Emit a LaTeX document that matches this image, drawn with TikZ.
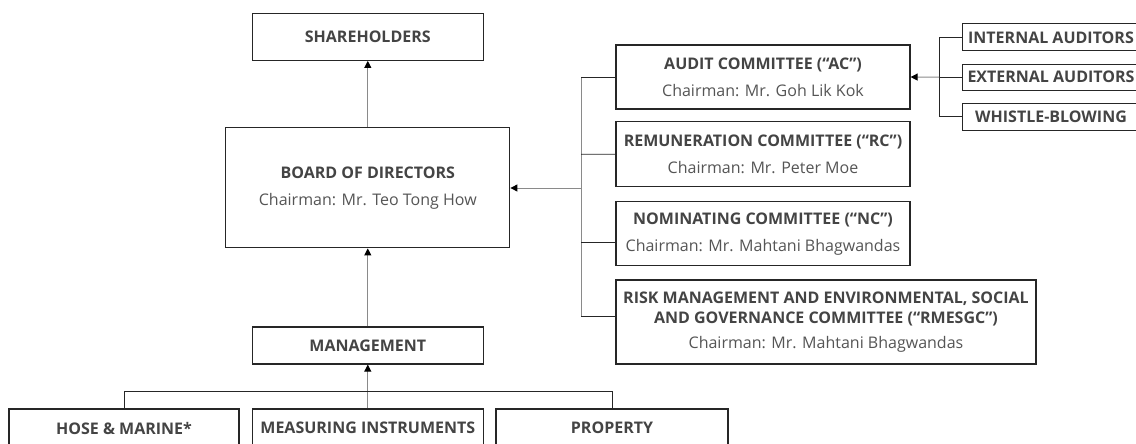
\documentclass[tikz,border=0pt]{standalone}
\usepackage{fontspec}
\setmainfont{Open Sans}
\usetikzlibrary{arrows.meta}
\definecolor{txt}{HTML}{444444}
\definecolor{sub}{HTML}{555555}
\definecolor{bord}{HTML}{262626}
\definecolor{conn}{HTML}{8A8A8A}
\newcommand{\ttl}[1]{{\bfseries\color{txt}#1}}
\newcommand{\chair}[1]{{\color{sub}#1}}
\begin{document}
\begin{tikzpicture}[x=1pt,y=-1pt,
  box/.style={draw=bord, line width=1.2pt, fill=white, inner sep=0pt, align=center,
    font=\fontsize{16}{19}\selectfont, text=txt},
  brk/.style={draw=bord, line width=0.9pt},
  vbrk/.style={draw=conn, line width=1pt},
  arr/.style={draw=conn, line width=1pt, -{Triangle[length=7pt,width=7pt,color=black]}}]
\useasboundingbox (0,0) rectangle (1136,444);
\clip (0,0) rectangle (1136,444);

% left column
\node[box, minimum width=231pt, minimum height=47pt] (sh) at (367.8,36.8) {\ttl{SHAREHOLDERS}};
\node[box, minimum width=284pt, minimum height=120pt] (bod) at (367.8,187.8)
  {\ttl{BOARD OF DIRECTORS}\\[8pt]\chair{Chairman: Mr. Teo Tong How}};
\node[box, minimum width=231pt, minimum height=37pt] (mgmt) at (367.8,345.5) {\ttl{MANAGEMENT}};

% bottom divisions
\node[box, minimum width=230pt, minimum height=38pt] (hose) at (124,428) {\ttl{HOSE \& MARINE*}};
\node[box, minimum width=231pt, minimum height=38pt] (meas) at (367.8,428) {\ttl{MEASURING INSTRUMENTS}};
\node[box, minimum width=232pt, minimum height=38pt] (prop) at (612,428) {\ttl{PROPERTY}};

% committees
\node[box, minimum width=294pt, minimum height=64pt] (ac) at (763,77)
  {\ttl{AUDIT COMMITTEE (“AC”)}\\[8pt]\chair{Chairman: Mr. Goh Lik Kok}};
\node[box, minimum width=294pt, minimum height=65pt] (rc) at (763,154.2)
  {\ttl{REMUNERATION COMMITTEE (“RC”)}\\[8pt]\chair{Chairman: Mr. Peter Moe}};
\node[box, minimum width=294pt, minimum height=64pt] (nc) at (763,233.8)
  {\ttl{NOMINATING COMMITTEE (“NC”)}\\[8pt]\chair{Chairman: Mr. Mahtani Bhagwandas}};
\node[box, minimum width=420pt, minimum height=84pt] (rm) at (826,322)
  {\ttl{RISK MANAGEMENT AND ENVIRONMENTAL, SOCIAL}\\[1.5pt]\ttl{AND GOVERNANCE COMMITTEE (“RMESGC”)}\\[6pt]\chair{Chairman: Mr. Mahtani Bhagwandas}};

% auditors
\node[box, minimum width=177pt, minimum height=27pt] (ia) at (1051,37.3) {\ttl{INTERNAL AUDITORS}};
\node[box, minimum width=177pt, minimum height=26pt] (ea) at (1051,77.2) {\ttl{EXTERNAL AUDITORS}};
\node[box, minimum width=177pt, minimum height=27pt] (wb) at (1051,116.7) {\ttl{WHISTLE-BLOWING}};

% coordinates
\coordinate (cb1) at (581,77);
\coordinate (cb2) at (581,154.3);
\coordinate (cb3) at (581,242);
\coordinate (cb4) at (581,316);
\coordinate (cbm) at (581,188);
\coordinate (ab1) at (939,37.3);
\coordinate (ab2) at (939,77.2);
\coordinate (ab3) at (939,116.7);
\coordinate (bl) at (124,391);
\coordinate (br) at (612,391);

% main vertical arrows
\draw[arr] (bod.north) -- (sh.south);
\draw[arr] (mgmt.north) -- (bod.south);
\draw[arr] (meas.north) -- (mgmt.south);

% bottom bracket
\draw[brk] (hose.north) -- (bl) -- (br) -- (prop.north);

% committee bracket
\draw[vbrk] (cb1) -- (cb4);
\draw[brk] (cb1) -- (ac.west);
\draw[brk] (cb2) -- (rc.west);
\draw[brk] (cb3) -- (cb3 -| nc.west);
\draw[brk] (cb4) -- (cb4 -| rm.west);
\draw[arr] (cbm) -- (cbm -| bod.east);

% auditor bracket
\draw[brk] (ia.west) -- (ab1) -- (ab3) -- (wb.west);
\draw[brk] (ea.west) -- (ab2);
\draw[arr] (ab2) -- (ac.east);
\end{tikzpicture}
\end{document}
